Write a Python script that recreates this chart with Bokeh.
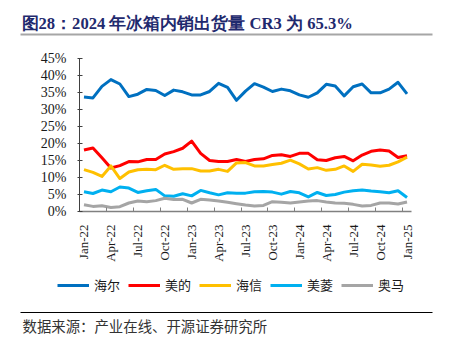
from bokeh.plotting import figure
from bokeh.models import Range1d, FixedTicker, PrintfTickFormatter, Legend, LegendItem
from bokeh.core.properties import value
from bokeh.embed import file_html
from bokeh.resources import INLINE

title_text = "图28：2024 年冰箱内销出货量 CR3 为 65.3%"
source_text = "数据来源：产业在线、开源证券研究所"

tick_labels = ["Jan-22", "Apr-22", "Jul-22", "Oct-22", "Jan-23", "Apr-23", "Jul-23",
               "Oct-23", "Jan-24", "Apr-24", "Jul-24", "Oct-24", "Jan-25"]
month_index = list(range(37))  # Jan-22 .. Jan-25

series_names = ["海尔", "美的", "海信", "美菱", "奥马"]
haier = [33.7, 33.4, 36.8, 38.8, 37.5, 33.8, 34.5, 35.9, 35.6, 34.1, 35.7, 35.2, 34.3,
         34.3, 35.3, 37.7, 36.5, 32.7, 35.4, 37.6, 36.6, 35.3, 36.0, 35.5, 34.3, 33.6,
         34.9, 37.4, 36.9, 34.0, 36.7, 37.5, 34.9, 34.9, 36.0, 38.0, 34.6]
midea = [18.1, 18.7, 15.8, 12.8, 13.5, 14.7, 14.6, 15.3, 15.3, 16.9, 17.6, 18.6, 20.7,
         17.1, 15.0, 14.7, 14.7, 15.3, 14.7, 15.3, 15.5, 16.5, 16.7, 16.2, 17.1, 17.1,
         15.2, 15.0, 15.8, 16.2, 14.9, 16.6, 17.7, 18.1, 17.8, 15.9, 16.4]
hisense = [12.3, 11.5, 10.3, 13.4, 9.7, 11.6, 12.3, 12.4, 12.3, 13.6, 12.4, 12.6, 12.6,
           11.9, 11.9, 12.4, 11.8, 14.3, 14.4, 13.4, 13.4, 13.8, 14.2, 15.1, 14.0, 12.5,
           12.9, 12.1, 12.4, 13.4, 11.8, 13.9, 13.7, 13.3, 13.6, 14.6, 16.0]
meiling = [5.8, 5.3, 6.3, 5.8, 7.2, 6.9, 5.6, 6.1, 6.5, 4.6, 4.5, 5.2, 4.6,
           6.2, 5.5, 4.9, 5.5, 5.4, 5.4, 5.8, 5.9, 5.7, 5.1, 5.9, 5.5, 4.3,
           5.6, 4.7, 5.0, 5.7, 6.1, 6.3, 6.0, 5.8, 5.5, 6.1, 4.1]
oma = [2.0, 1.5, 1.7, 1.2, 1.4, 2.5, 3.1, 2.9, 3.2, 3.9, 3.5, 3.6, 2.5,
       3.6, 3.4, 3.1, 2.7, 2.3, 1.9, 1.6, 1.8, 2.9, 2.7, 2.5, 2.8, 3.1,
       3.2, 2.8, 2.5, 2.4, 2.1, 1.6, 1.8, 2.5, 2.5, 2.2, 2.8]
colors = ["#0070C0", "#FF0000", "#FFC000", "#00B0F0", "#A5A5A5"]
y_ticks = [0, 5, 10, 15, 20, 25, 30, 35, 40, 45]

# ---------- page geometry (pixels, measured from the top-left) ----------
PAGE_W, PAGE_H = 455, 351
PLOT_L, PLOT_R, PLOT_T, PLOT_B = 79, 411, 58, 211
X_LO, X_HI = -0.5, 36.5
Y_LO, Y_HI = 0, 45
sx = (PLOT_R - PLOT_L) / (X_HI - X_LO)
sy = (PLOT_B - PLOT_T) / (Y_HI - Y_LO)


def up(y_from_top):
    # convert a page row (from the top) to the upward "px" range
    return PAGE_H - y_from_top


p = figure(width=PAGE_W, height=PAGE_H, min_border=0,
           x_range=Range1d(X_LO - PLOT_L / sx, X_HI + (PAGE_W - PLOT_R) / sx),
           y_range=Range1d(Y_LO - (PAGE_H - PLOT_B) / sy, Y_HI + PLOT_T / sy),
           output_backend="svg", toolbar_location=None)
p.extra_x_ranges = {"px": Range1d(0, PAGE_W)}
p.extra_y_ranges = {"px": Range1d(0, PAGE_H)}
p.xgrid.visible = False
p.ygrid.visible = False
p.outline_line_color = None

renderers = []
for name, ys, c in zip(series_names, [haier, midea, hisense, meiling, oma], colors):
    renderers.append(p.line(month_index, ys, line_color=c, line_width=3, line_join="round"))

# x axis
tick_pos = list(range(0, 37, 3))
p.xaxis.fixed_location = Y_LO
p.xaxis.bounds = (X_LO, X_HI)
p.xaxis.ticker = FixedTicker(ticks=tick_pos, minor_ticks=[t - 0.5 for t in range(0, 37, 3)])
p.xaxis.major_label_overrides = {t: lab for t, lab in zip(tick_pos, tick_labels)}
p.xaxis.major_label_orientation = 1.5707963
p.xaxis.major_tick_line_color = None
p.xaxis.major_tick_in = 0
p.xaxis.major_tick_out = 0
p.xaxis.minor_tick_in = 4
p.xaxis.minor_tick_out = 0
p.xaxis.minor_tick_line_color = "#808080"
p.xaxis.axis_line_color = "#808080"
p.xaxis.axis_line_width = 1.5
p.xaxis.major_label_standoff = 13
p.xaxis.major_label_text_font = "Liberation Serif"
p.xaxis.major_label_text_font_size = "13px"
p.xaxis.major_label_text_color = "#1A1A1A"

# y axis
p.yaxis.fixed_location = X_LO
p.yaxis.bounds = (Y_LO, Y_HI)
p.yaxis.ticker = FixedTicker(ticks=y_ticks)
p.yaxis.formatter = PrintfTickFormatter(format="%d%%")
p.yaxis.minor_tick_line_color = None
p.yaxis.major_tick_in = 3
p.yaxis.major_tick_out = 2
p.yaxis.major_tick_line_color = "#404040"
p.yaxis.axis_line_color = "#404040"
p.yaxis.major_label_standoff = 11
p.yaxis.major_label_text_font = "Liberation Serif"
p.yaxis.major_label_text_font_size = "14px"
p.yaxis.major_label_text_color = "#1A1A1A"

# legend
legend = Legend(items=[LegendItem(label=n, renderers=[r]) for n, r in zip(series_names, renderers)],
                orientation="horizontal", location=(57, 57),
                border_line_color=None, background_fill_alpha=0,
                label_text_font="Noto Sans CJK SC", label_text_font_size="13px",
                label_text_color="#1A1A1A", glyph_width=32, glyph_height=14,
                label_standoff=5, spacing=8, padding=0, margin=0)
p.add_layout(legend)

# title, rules and source (page-pixel ranges)
p.text(x=[21], y=[up(23)], text=[title_text], text_font=value("Liberation Serif"),
       text_font_style="bold", text_font_size="16.6px", text_color="#1F2A6E",
       text_baseline="middle", text_align="left", x_range_name="px", y_range_name="px")
p.quad(left=[20], right=[432], bottom=[up(35)], top=[up(33)],
       fill_color="#A6A6A6", line_color=None, x_range_name="px", y_range_name="px")
p.quad(left=[20], right=[432], bottom=[up(312.6)], top=[up(311.6)],
       fill_color="#000000", line_color=None, x_range_name="px", y_range_name="px")
p.text(x=[22], y=[up(325)], text=[source_text], text_font=value("Noto Sans CJK SC"),
       text_font_size="14.4px", text_color="#333333",
       text_baseline="middle", text_align="left", x_range_name="px", y_range_name="px")

open("out.html", "w").write(file_html(p, INLINE))
